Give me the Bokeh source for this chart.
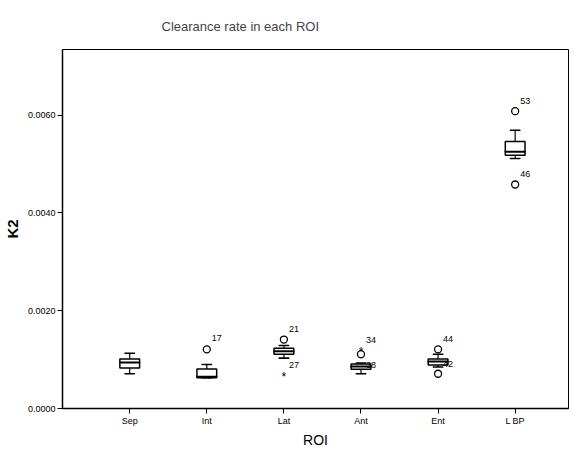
from bokeh.plotting import figure
from bokeh.embed import file_html
from bokeh.resources import INLINE
from bokeh.models import FixedTicker, NumeralTickFormatter, ColumnDataSource
from bokeh.core.properties import value

# ---- data ----
categories = ["Sep", "Int", "Lat", "Ant", "Ent", "L BP"]
whisker_low = [0.00071, 0.00063, 0.00103, 0.00071, 0.00085, 0.00511]
q1 = [0.00083, 0.00063, 0.00111, 0.00080, 0.00089, 0.00518]
median = [0.00094, 0.00065, 0.00117, 0.00086, 0.00096, 0.00525]
q3 = [0.00101, 0.00081, 0.00123, 0.00091, 0.00101, 0.00546]
whisker_high = [0.00113, 0.00090, 0.00129, 0.00093, 0.00111, 0.00569]

outlier_cat = ["Int", "Lat", "Ant", "Ent", "Ent", "L BP", "L BP"]
outlier_val = [0.00121, 0.00141, 0.00111, 0.00121, 0.00071, 0.00608, 0.00458]

extreme_cat = ["Lat", "Ant"]
extreme_val = [0.00071, 0.00121]

case_label = ["17", "21", "27", "34", "38", "44", "42", "53", "46"]
case_cat = ["Int", "Lat", "Lat", "Ant", "Ant", "Ent", "Ent", "L BP", "L BP"]
case_val = [0.00144, 0.00163, 0.00088, 0.00141, 0.00088, 0.00143, 0.00092, 0.00628, 0.00480]

y_ticks = [0.0, 0.002, 0.004, 0.006]

FONT = "Liberation Sans"
pos = {c: i + 1 for i, c in enumerate(categories)}
xs = [pos[c] for c in categories]

p = figure(width=570, height=450, output_backend="svg", toolbar_location=None,
           x_range=(0.128, 6.692), y_range=(0.0, 0.00734),
           min_border_left=56, min_border_top=49, min_border_bottom=34, min_border_right=2)
p.background_fill_color = "white"
p.border_fill_color = "white"
p.outline_line_color = "black"
p.outline_line_width = 1
p.grid.visible = False

p.title.text = "Clearance rate in each ROI"
p.title.text_font = FONT
p.title.text_font_size = "13px"
p.title.text_font_style = "normal"
p.title.align = "left"
p.title.offset = 99
p.title.standoff = 32

box_w = 0.256
cap_w = 0.128
src = ColumnDataSource(dict(x=xs, lo=whisker_low, q1=q1, med=median, q3=q3, hi=whisker_high))
# whiskers
p.segment(x0="x", x1="x", y0="lo", y1="q1", source=src, line_color="black", line_width=1.2)
p.segment(x0="x", x1="x", y0="q3", y1="hi", source=src, line_color="black", line_width=1.2)
p.rect(x="x", y="lo", width=cap_w, height=0.0000001, source=src, fill_alpha=0, line_color="black", line_width=1.5)
p.rect(x="x", y="hi", width=cap_w, height=0.0000001, source=src, fill_alpha=0, line_color="black", line_width=1.5)
# boxes
p.vbar(x="x", width=box_w, bottom="q1", top="q3", source=src, fill_color="white",
       line_color="black", line_width=1.5)
p.rect(x="x", y="med", width=box_w, height=0.0000001, source=src, fill_alpha=0,
       line_color="black", line_width=2)

# outliers
p.scatter(x=[pos[c] for c in outlier_cat], y=outlier_val, marker="circle", size=7,
          fill_color="white", line_color="black", line_width=1.3)
p.text(x=[pos[c] for c in extreme_cat], y=extreme_val, text=["*"] * len(extreme_cat),
       text_align="center", text_baseline="middle", text_font=value(FONT),
       text_font_size="12px", y_offset=3)
p.text(x=[pos[c] for c in case_cat], y=case_val, text=case_label, x_offset=5,
       text_align="left", text_baseline="middle", text_font=value(FONT), text_font_size="9px")

# axes
p.xaxis.ticker = FixedTicker(ticks=xs)
p.xaxis.major_label_overrides = {pos[c]: c for c in categories}
p.yaxis.ticker = FixedTicker(ticks=y_ticks)
p.yaxis.formatter = NumeralTickFormatter(format="0.0000")
for ax in (p.xaxis, p.yaxis):
    ax.axis_line_color = "black"
    ax.axis_line_width = 1.5
    ax.major_tick_line_color = "black"
    ax.major_tick_out = 5
    ax.major_tick_in = 0
    ax.minor_tick_line_color = None
    ax.major_label_text_font = FONT
    ax.major_label_text_font_size = "9px"
    ax.major_label_text_color = "black"
    ax.axis_label_text_font = FONT
    ax.axis_label_text_font_style = "normal"
    ax.axis_label_text_color = "black"
    ax.major_label_standoff = 2

p.xaxis.axis_label = "ROI"
p.xaxis.axis_label_text_font_size = "14px"
p.xaxis.axis_label_standoff = 3
p.yaxis.axis_label = "K2"
p.yaxis.axis_label_text_font_size = "15px"
p.yaxis.axis_label_text_font_style = "bold"
p.yaxis.axis_label_standoff = 4

open("out.html", "w").write(file_html(p, INLINE))
